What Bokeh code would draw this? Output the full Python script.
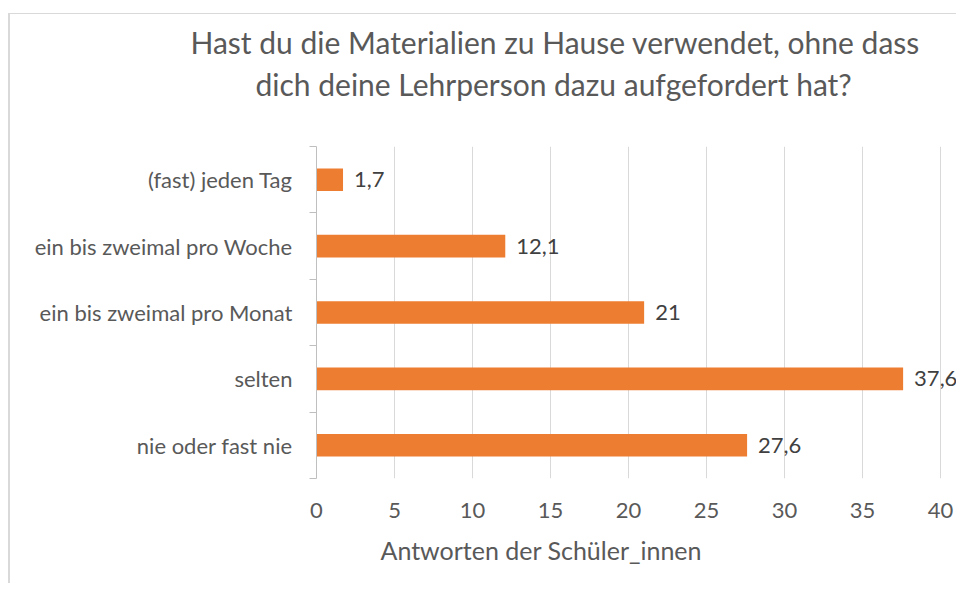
from bokeh.plotting import figure
from bokeh.models import (ColumnDataSource, Range1d, FixedTicker, LabelSet, Title)
from bokeh.core.properties import value
from bokeh.embed import file_html
from bokeh.resources import INLINE

# ---- data ----
categories = ["nie oder fast nie", "selten", "ein bis zweimal pro Monat",
              "ein bis zweimal pro Woche", "(fast) jeden Tag"]
values = [27.6, 37.6, 21.0, 12.1, 1.7]
x_ticks = [0, 5, 10, 15, 20, 25, 30, 35, 40]
title_lines = ["Hast du die Materialien zu Hause verwendet, ohne dass",
               "dich deine Lehrperson dazu aufgefordert hat?"]
x_label = "Antworten der Schüler_innen"

FONT = "Lato"
ys = [i + 0.5 for i in range(len(categories))]
labels = [f"{v:g}".replace(".", ",") for v in values]
src = ColumnDataSource(dict(y=ys, v=values, label=labels))

p = figure(width=948, height=570, output_backend="svg", toolbar_location=None,
           x_range=Range1d(0, 41.15), y_range=Range1d(0, len(categories)),
           min_border_left=306, min_border_right=0, min_border_top=132,
           min_border_bottom=106,
           styles={"border-top": "1px solid #d9d9d9",
                   "border-left": "2px solid #d9d9d9",
                   "margin-top": "13px", "margin-left": "8px"})
p.outline_line_color = None
p.background_fill_color = "white"
p.border_fill_color = "white"

p.hbar(y="y", right="v", left=0, height=0.34, source=src,
       fill_color="#ED7D31", line_color=None)

p.add_layout(LabelSet(x="v", y="y", text="label", source=src, x_offset=11,
                      text_baseline="middle", text_align="left",
                      text_font=value(FONT), text_font_size="22px",
                      text_color="#404040"))

# x axis
xa = p.xaxis[0]
xa.ticker = FixedTicker(ticks=x_ticks)
xa.axis_line_color = None
xa.major_tick_line_color = None
xa.minor_tick_line_color = None
xa.major_label_standoff = 18
xa.major_label_text_font = FONT
xa.major_label_text_font_size = "22px"
xa.major_label_text_color = "#595959"

p.xgrid.ticker = FixedTicker(ticks=x_ticks)
p.xgrid.grid_line_color = "#d9d9d9"
p.xgrid.grid_line_width = 1
p.ygrid.grid_line_color = None

# y axis
ya = p.yaxis[0]
ya.ticker = FixedTicker(ticks=ys, minor_ticks=list(range(len(categories) + 1)))
ya.major_label_overrides = {y: c for y, c in zip(ys, categories)}
ya.major_tick_line_color = None
ya.minor_tick_out = 7
ya.minor_tick_in = 0
ya.minor_tick_line_color = "#bfbfbf"
ya.axis_line_color = "#bfbfbf"
ya.major_label_standoff = 17
ya.major_label_text_font = FONT
ya.major_label_text_font_size = "22px"
ya.major_label_text_color = "#595959"

# titles (spacer nearest to the plot, then second line, then first line)
p.title.visible = False
p.add_layout(Title(text=" ", align="left", standoff=7,
                   text_font=FONT, text_font_size="30px"), "above")
p.add_layout(Title(text=title_lines[1], align="left", offset=-61, standoff=0,
                   text_font=FONT, text_font_size="30px",
                   text_font_style="normal", text_color="#595959"), "above")
p.add_layout(Title(text=title_lines[0], align="left", offset=-126, standoff=8,
                   text_font=FONT, text_font_size="30px",
                   text_font_style="normal", text_color="#595959"), "above")
p.add_layout(Title(text=x_label, align="left", offset=64, standoff=25,
                   text_font=FONT, text_font_size="25px",
                   text_font_style="normal", text_color="#595959"), "below")

open("out.html", "w").write(file_html(p, INLINE))
